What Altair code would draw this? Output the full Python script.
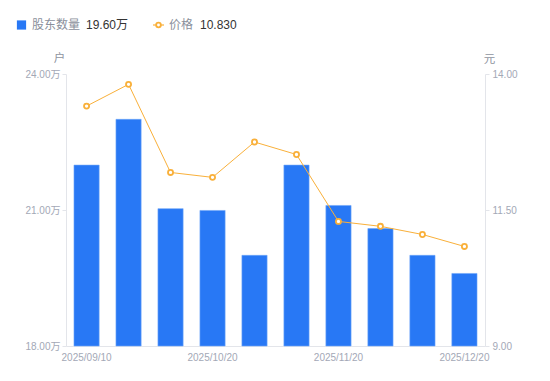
import altair as alt
import pandas as pd

dates = ["2025/09/10", "2025/09/20", "2025/09/30", "2025/10/20", "2025/10/31",
         "2025/11/10", "2025/11/20", "2025/11/30", "2025/12/10", "2025/12/20"]
holders = [21.99, 23.00, 21.03, 20.99, 20.00, 21.99, 21.10, 20.59, 20.00, 19.60]
prices = [13.41, 13.81, 12.19, 12.10, 12.75, 12.52, 11.29, 11.20, 11.05, 10.83]
shown_dates = [dates[0], dates[3], dates[6], dates[9]]

df = pd.DataFrame({"date": dates, "holders": holders, "price": prices})

FONT = "Liberation Sans, Noto Sans CJK SC, sans-serif"
BLUE = "#2878f5"
ORANGE = "#f9b03a"
AXIS_GRAY = "#e3e5ea"
LABEL_GRAY = "#a3a8b6"

x_enc = alt.X(
    "date:N", sort=dates,
    scale=alt.Scale(paddingInner=0.4, paddingOuter=0.19),
    axis=alt.Axis(orient="bottom", values=shown_dates, labelAngle=0, ticks=False,
                  domainColor=AXIS_GRAY, labelColor=LABEL_GRAY, labelFontSize=10,
                  labelPadding=6, title=None, labelFont=FONT, grid=False),
)

bars = alt.Chart(df).mark_bar(color=BLUE, stroke="#6ea6f8", strokeWidth=0.6).encode(
    x=x_enc,
    y=alt.Y("holders:Q",
            scale=alt.Scale(domain=[18, 24], nice=False, zero=False),
            axis=alt.Axis(values=[18, 21, 24], labelExpr="format(datum.value, '.2f') + '万'",
                          grid=False, domainColor=AXIS_GRAY, tickColor=AXIS_GRAY, tickSize=4,
                          labelColor=LABEL_GRAY, labelFontSize=10, labelPadding=2,
                          labelFont=FONT, title="户", titleAngle=0, titleX=-7, titleY=-16,
                          titleAlign="center", titleBaseline="middle", titleColor="#8f94a0",
                          titleFontWeight="normal", titleFontSize=11.5, titleFont=FONT)),
    y2=alt.datum(18),
)

line = alt.Chart(df).mark_line(
    color=ORANGE, strokeWidth=1,
    point=alt.OverlayMarkDef(shape="circle", filled=True, fill="white", stroke=ORANGE,
                             strokeWidth=1.8, size=26, opacity=1),
).encode(
    x=alt.X("date:N", sort=dates),
    y=alt.Y("price:Q",
            scale=alt.Scale(domain=[9, 14], nice=False, zero=False),
            axis=alt.Axis(orient="right", values=[9, 11.5, 14], format=".2f",
                          grid=False, domainColor=AXIS_GRAY, tickColor=AXIS_GRAY, tickSize=4,
                          labelColor=LABEL_GRAY, labelFontSize=10, labelPadding=3,
                          labelFont=FONT, title="元", titleAngle=0, titleX=4, titleY=-15,
                          titleAlign="center", titleBaseline="middle", titleColor="#8f94a0",
                          titleFontWeight="normal", titleFontSize=11.5, titleFont=FONT)),
)

# custom legend
LY = -49
leg_df = pd.DataFrame({"k": [0]})
leg_sq = alt.Chart(leg_df).mark_square(color=BLUE, size=85, opacity=1).encode(
    x=alt.value(-44.5), y=alt.value(LY))
leg_t1 = alt.Chart(leg_df).mark_text(text="股东数量", align="left", baseline="middle",
                                     font=FONT, fontSize=12, color="#8a8f9b").encode(
    x=alt.value(-34), y=alt.value(LY))
leg_v1 = alt.Chart(leg_df).mark_text(text="19.60万", align="left", baseline="middle",
                                     font=FONT, fontSize=12, color="#333333").encode(
    x=alt.value(20), y=alt.value(LY))
leg_ln = alt.Chart(leg_df).mark_rule(color=ORANGE, strokeWidth=1.2).encode(
    x=alt.value(87), x2=alt.value(98), y=alt.value(LY))
leg_pt = alt.Chart(leg_df).mark_point(shape="circle", filled=True, fill="white", stroke=ORANGE,
                                      strokeWidth=1.8, size=22, opacity=1).encode(
    x=alt.value(92.5), y=alt.value(LY))
leg_t2 = alt.Chart(leg_df).mark_text(text="价格", align="left", baseline="middle",
                                     font=FONT, fontSize=12, color="#8a8f9b").encode(
    x=alt.value(103), y=alt.value(LY))
leg_v2 = alt.Chart(leg_df).mark_text(text="10.830", align="left", baseline="middle",
                                     font=FONT, fontSize=12, color="#333333").encode(
    x=alt.value(134), y=alt.value(LY))

chart = alt.layer(
    bars, line, leg_sq, leg_t1, leg_v1, leg_ln, leg_pt, leg_t2, leg_v2
).resolve_scale(y="independent").properties(
    width=419, height=272,
    autosize=alt.AutoSizeParams(type="none"),
    padding={"left": 58, "top": 66, "right": 50, "bottom": 30},
    view=alt.ViewBackground(strokeWidth=0, strokeOpacity=0),
).configure_view(strokeWidth=0, strokeOpacity=0).configure_axis(
    grid=False
).configure(background="white")

chart.save("out.html", embed_options={"renderer": "svg", "actions": False})
